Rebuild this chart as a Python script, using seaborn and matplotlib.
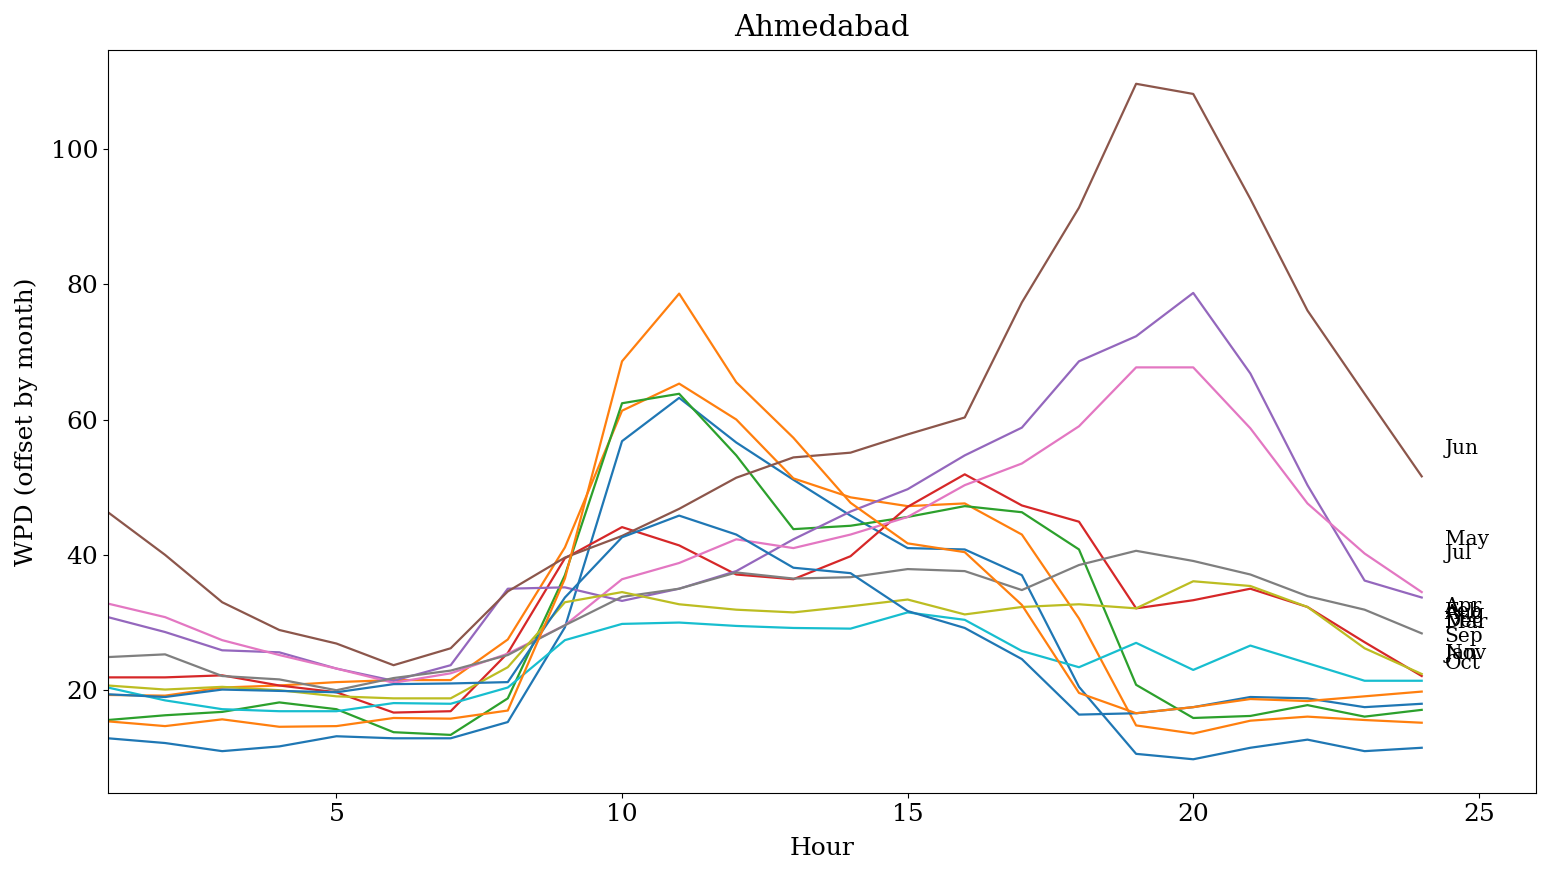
import numpy as np
import pandas as pd
import seaborn as sns
import matplotlib
matplotlib.use('Agg')
import matplotlib.pyplot as plt

plt.rcParams['font.family'] = 'serif'
plt.rcParams['font.size'] = 18

hours = list(range(1, 25))
months = ['Jan', 'Feb', 'Mar', 'Apr', 'May', 'Jun',
          'Jul', 'Aug', 'Sep', 'Oct', 'Nov', 'Dec']

# hourly WPD per month
jan = [12.9, 12.2, 11.0, 11.7, 13.2, 12.9, 12.9, 15.3, 29.3, 56.8, 63.2, 56.6,
       51.1, 45.8, 41.0, 40.8, 37.0, 20.5, 10.6, 9.8, 11.5, 12.7, 11.0, 11.5]
feb = [19.3, 19.2, 20.4, 20.7, 21.2, 21.5, 21.5, 27.5, 41.1, 61.3, 65.3, 60.0,
       51.3, 48.5, 47.2, 47.6, 43.0, 30.6, 14.8, 13.6, 15.5, 16.1, 15.6, 15.2]
mar = [15.6, 16.3, 16.8, 18.2, 17.2, 13.8, 13.4, 18.8, 37.0, 62.4, 63.8, 54.7,
       43.8, 44.3, 45.6, 47.2, 46.3, 40.8, 20.8, 15.9, 16.2, 17.8, 16.1, 17.1]
apr = [21.9, 21.9, 22.2, 20.7, 19.7, 16.7, 16.9, 25.5, 39.5, 44.1, 41.4, 37.1,
       36.4, 39.8, 47.1, 51.9, 47.3, 44.9, 32.1, 33.3, 35.0, 32.3, 27.1, 22.1]
may = [30.8, 28.6, 25.9, 25.6, 23.2, 21.4, 23.7, 35.0, 35.2, 33.2, 35.0, 37.6,
       42.3, 46.4, 49.7, 54.7, 58.8, 68.6, 72.3, 78.7, 66.8, 50.3, 36.2, 33.7]
jun = [46.3, 40.0, 33.0, 28.9, 26.9, 23.7, 26.2, 34.6, 39.6, 42.8, 46.8, 51.4,
       54.4, 55.1, 57.8, 60.3, 77.3, 91.3, 109.6, 108.1, 92.6, 76.1, 63.8, 51.6]
jul = [32.8, 30.8, 27.4, 25.2, 23.2, 21.1, 22.5, 25.4, 29.6, 36.4, 38.8, 42.3,
       41.0, 43.0, 45.6, 50.3, 53.5, 59.0, 67.7, 67.7, 58.7, 47.6, 40.2, 34.5]
aug = [24.9, 25.3, 22.1, 21.6, 20.0, 21.8, 22.9, 25.2, 29.6, 33.8, 35.0, 37.4,
       36.5, 36.7, 37.9, 37.6, 34.8, 38.5, 40.6, 39.1, 37.1, 33.9, 31.9, 28.4]
sep = [20.7, 20.1, 20.5, 20.0, 19.1, 18.8, 18.8, 23.4, 33.0, 34.5, 32.7, 31.9,
       31.5, 32.4, 33.4, 31.2, 32.3, 32.7, 32.1, 36.1, 35.4, 32.3, 26.2, 22.4]
oct_ = [20.4, 18.5, 17.2, 16.9, 16.9, 18.1, 18.0, 20.4, 27.4, 29.8, 30.0, 29.5,
        29.2, 29.1, 31.5, 30.4, 25.8, 23.4, 27.0, 23.0, 26.6, 24.0, 21.4, 21.4]
nov = [19.4, 19.0, 20.1, 19.9, 19.7, 20.9, 21.0, 21.2, 33.7, 42.6, 45.8, 43.0,
       38.1, 37.3, 31.7, 29.2, 24.6, 16.4, 16.6, 17.5, 19.0, 18.8, 17.5, 18.0]
dec = [15.4, 14.7, 15.7, 14.6, 14.7, 15.9, 15.8, 17.0, 36.5, 68.6, 78.6, 65.5,
       57.3, 47.7, 41.7, 40.4, 32.6, 19.6, 16.6, 17.5, 18.7, 18.4, 19.1, 19.8]

series = [jan, feb, mar, apr, may, jun, jul, aug, sep, oct_, nov, dec]

fig = plt.figure(figsize=(15.51, 8.76), dpi=100)
ax = fig.add_axes([0.0696, 0.0947, 0.9207, 0.8482])

for name, vals in zip(months, series):
    df = pd.DataFrame({'Hour': hours, 'WPD': vals})
    sns.lineplot(data=df, x='Hour', y='WPD', ax=ax, lw=1.6, legend=False)
    # month label at the series mean
    ax.text(24.4, np.mean(vals), name, va='center', ha='left', fontsize=14.5)

ax.set_xlim(1, 26)
ax.set_xticks([5, 10, 15, 20, 25])
ax.set_yticks([20, 40, 60, 80, 100])
ax.set_xlabel('Hour', labelpad=8)
ax.set_ylabel('WPD (offset by month)', labelpad=9)
ax.set_title('Ahmedabad', fontsize=21, pad=10)

fig.savefig('out.png', dpi=100)
